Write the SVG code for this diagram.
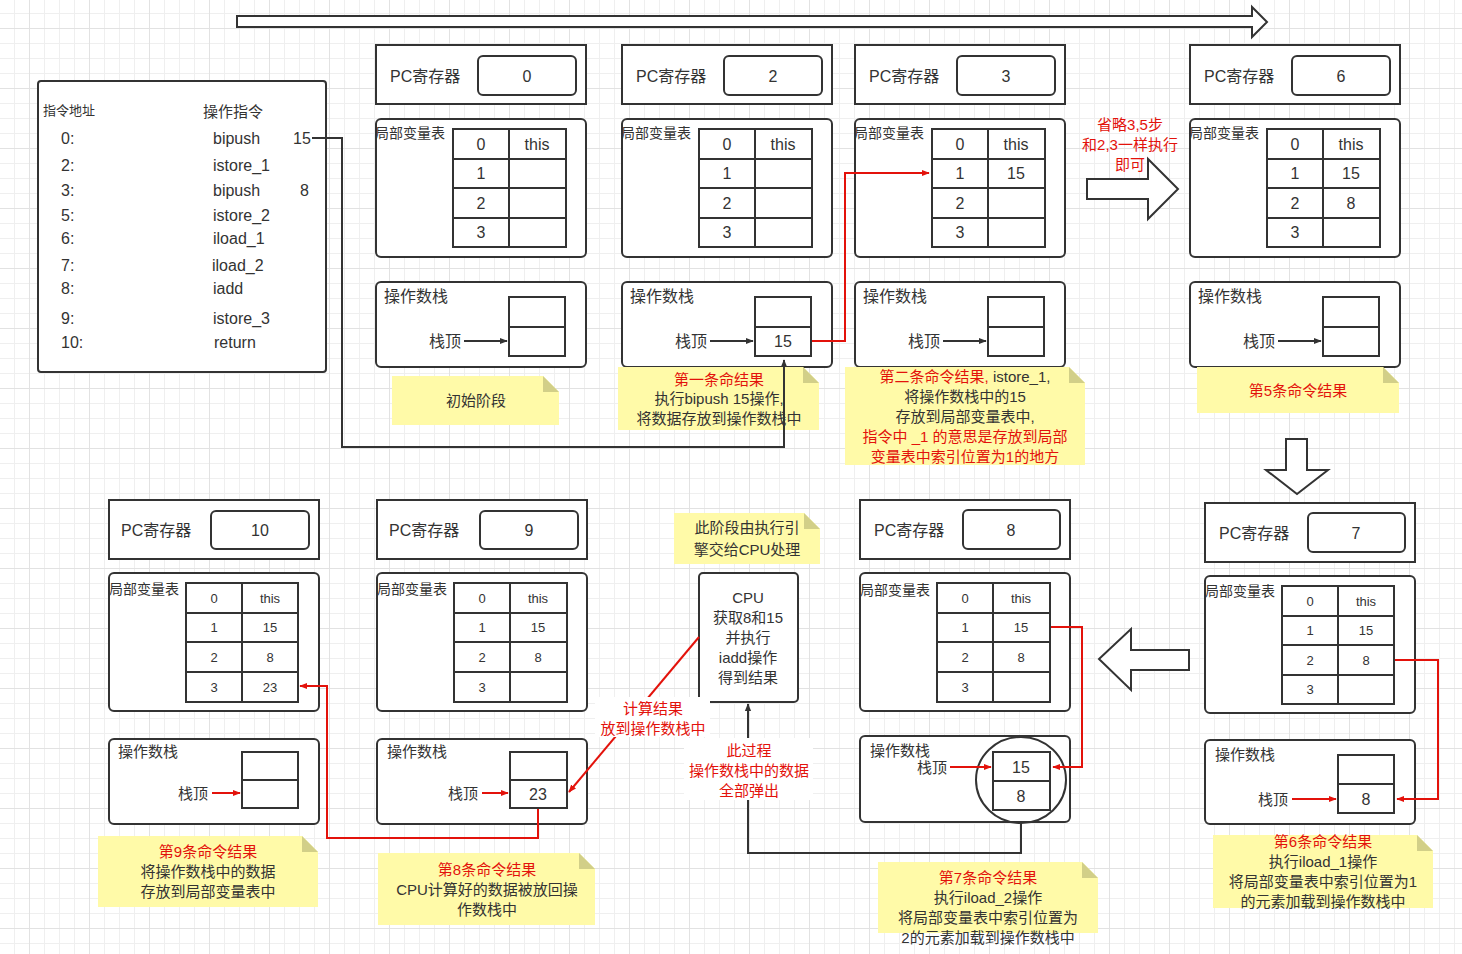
<svg xmlns="http://www.w3.org/2000/svg" width="1462" height="954" viewBox="0 0 1462 954">
<defs>
<pattern id="grid" x="29" y="28" width="60" height="60" patternUnits="userSpaceOnUse">
<path d="M15.5 0V60M30.5 0V60M45.5 0V60M0 15.5H60M0 30.5H60M0 45.5H60" stroke="#efefef" stroke-width="1" fill="none"/>
<path d="M0.5 0V60M0 0.5H60" stroke="#e2e2e2" stroke-width="1" fill="none"/>
</pattern>
<marker id="ab" viewBox="0 0 10 10" refX="9" refY="5" markerWidth="8" markerHeight="8" orient="auto" markerUnits="userSpaceOnUse"><path d="M0 1L10 5L0 9z" fill="#333"/></marker>
<marker id="ar" viewBox="0 0 10 10" refX="9" refY="5" markerWidth="8" markerHeight="8" orient="auto" markerUnits="userSpaceOnUse"><path d="M0 1L10 5L0 9z" fill="#e3120b"/></marker>
<style>
text{font-family:"Liberation Sans","Noto Sans CJK SC",sans-serif;fill:#333;dominant-baseline:central}
.f{fill:#fff;stroke:#333;stroke-width:2}
.n{fill:none;stroke:#333;stroke-width:2}
.c{text-anchor:middle}
.s16{font-size:16px}
.s15{font-size:15px}
.s14{font-size:14px}
.s13{font-size:13px}
.red{fill:#e3120b}
.note{fill:#fffaa8}
.fold{fill:#d2cf88}
.lb{stroke:#333;stroke-width:2;fill:none}
.lr{stroke:#e3120b;stroke-width:2;fill:none}
</style>
</defs>
<rect width="1462" height="954" fill="#fff"/>
<rect width="1462" height="954" fill="url(#grid)"/>

<g id="top-arrow"><polygon class="f" points="237,16 1252,16 1252,7 1267,22 1252,37 1252,27 237,27"/></g>

<g id="instructions">
<rect class="f" x="38" y="81" width="288" height="291" rx="3"/>
<text class="s13" x="43" y="110">指令地址</text>
<text class="s15" x="203" y="111">操作指令</text>
<g class="s16">
<text x="61" y="138">0:</text><text x="213" y="138">bipush</text><text x="293" y="138">15</text>
<text x="61" y="165">2:</text><text x="213" y="165">istore_1</text>
<text x="61" y="190">3:</text><text x="213" y="190">bipush</text><text x="300" y="190">8</text>
<text x="61" y="215">5:</text><text x="213" y="215">istore_2</text>
<text x="61" y="238">6:</text><text x="213" y="238">iload_1</text>
<text x="61" y="265">7:</text><text x="212" y="265">iload_2</text>
<text x="61" y="288">8:</text><text x="213" y="288">iadd</text>
<text x="61" y="318">9:</text><text x="213" y="318">istore_3</text>
<text x="61" y="342">10:</text><text x="214" y="342">return</text>
</g>
</g>

<!-- top frame 1 -->
<g id="frame0">
<rect class="f" x="376" y="45" width="210" height="59"/>
<rect class="f" x="478" y="56" width="98" height="39" rx="5"/>
<text class="s16" x="390" y="76">PC寄存器</text><text class="s16 c" x="527" y="76">0</text>
<rect class="f" x="376" y="119" width="210" height="138" rx="5"/>
<text class="s14" x="375" y="133">局部变量表</text>
<path class="n" d="M453 129H566V247H453ZM509 129V247M453 159H566M453 188H566M453 218H566"/>
<g class="s16 c"><text x="481" y="144">0</text><text x="537" y="144">this</text><text x="481" y="173">1</text><text x="481" y="203">2</text><text x="481" y="232">3</text></g>
<rect class="f" x="376" y="282" width="210" height="85" rx="5"/>
<text class="s16" x="384" y="296">操作数栈</text>
<path class="n" d="M509 297H565V356H509ZM509 327H565"/>
<text class="s16" x="429" y="341">栈顶</text>
</g>
<g id="note0"><polygon class="note" points="392,376 543,376 559,392 559,425 392,425"/><polygon class="fold" points="543,376 559,392 543,392"/><text class="s15 c" x="476" y="400">初始阶段</text></g>

<!-- top frame 2 -->
<g id="frame2">
<rect class="f" x="622" y="45" width="210" height="59"/>
<rect class="f" x="724" y="56" width="98" height="39" rx="5"/>
<text class="s16" x="636" y="76">PC寄存器</text><text class="s16 c" x="773" y="76">2</text>
<rect class="f" x="622" y="119" width="210" height="138" rx="5"/>
<text class="s14" x="621" y="133">局部变量表</text>
<path class="n" d="M699 129H812V247H699ZM755 129V247M699 159H812M699 188H812M699 218H812"/>
<g class="s16 c"><text x="727" y="144">0</text><text x="783" y="144">this</text><text x="727" y="173">1</text><text x="727" y="203">2</text><text x="727" y="232">3</text></g>
<rect class="f" x="622" y="282" width="210" height="85" rx="5"/>
<text class="s16" x="630" y="296">操作数栈</text>
<path class="n" d="M755 297H811V356H755ZM755 327H811"/>
<text class="s16 c" x="783" y="341">15</text>
<text class="s16" x="675" y="341">栈顶</text>
</g>
<g id="note2"><polygon class="note" points="618,367 803,367 819,383 819,430 618,430"/><polygon class="fold" points="803,367 819,383 803,383"/>
<text class="s15 c red" x="719" y="379">第一条命结果</text><text class="s15 c" x="719" y="398">执行bipush 15操作,</text><text class="s15 c" x="719" y="418">将数据存放到操作数栈中</text></g>

<!-- top frame 3 -->
<g id="frame3">
<rect class="f" x="855" y="45" width="210" height="59"/>
<rect class="f" x="957" y="56" width="98" height="39" rx="5"/>
<text class="s16" x="869" y="76">PC寄存器</text><text class="s16 c" x="1006" y="76">3</text>
<rect class="f" x="855" y="119" width="210" height="138" rx="5"/>
<text class="s14" x="854" y="133">局部变量表</text>
<path class="n" d="M932 129H1045V247H932ZM988 129V247M932 159H1045M932 188H1045M932 218H1045"/>
<g class="s16 c"><text x="960" y="144">0</text><text x="1016" y="144">this</text><text x="960" y="173">1</text><text x="1016" y="173">15</text><text x="960" y="203">2</text><text x="960" y="232">3</text></g>
<rect class="f" x="855" y="282" width="210" height="85" rx="5"/>
<text class="s16" x="863" y="296">操作数栈</text>
<path class="n" d="M988 297H1044V356H988ZM988 327H1044"/>
<text class="s16" x="908" y="341">栈顶</text>
</g>
<g id="note3"><polygon class="note" points="845,367 1069,367 1085,383 1085,465 845,465"/><polygon class="fold" points="1069,367 1085,383 1069,383"/>
<text class="s15 c" x="965" y="376"><tspan class="red">第二条命令结果,</tspan> istore_1,</text>
<text class="s15 c" x="965" y="396">将操作数栈中的15</text>
<text class="s15 c" x="965" y="416">存放到局部变量表中,</text>
<text class="s15 c red" x="965" y="436">指令中 _1 的意思是存放到局部</text>
<text class="s15 c red" x="965" y="456">变量表中索引位置为1的地方</text></g>

<g id="skip-arrow"><polygon class="f" points="1087,179 1148,179 1148,159 1178,189 1148,219 1148,199 1087,199"/>
<text class="s15 c red" x="1130" y="124">省略3,5步</text><text class="s15 c red" x="1130" y="144">和2,3一样执行</text><text class="s15 c red" x="1130" y="164">即可</text></g>

<!-- top frame 4 -->
<g id="frame5">
<rect class="f" x="1190" y="45" width="210" height="59"/>
<rect class="f" x="1292" y="56" width="98" height="39" rx="5"/>
<text class="s16" x="1204" y="76">PC寄存器</text><text class="s16 c" x="1341" y="76">6</text>
<rect class="f" x="1190" y="119" width="210" height="138" rx="5"/>
<text class="s14" x="1189" y="133">局部变量表</text>
<path class="n" d="M1267 129H1380V247H1267ZM1323 129V247M1267 159H1380M1267 188H1380M1267 218H1380"/>
<g class="s16 c"><text x="1295" y="144">0</text><text x="1351" y="144">this</text><text x="1295" y="173">1</text><text x="1351" y="173">15</text><text x="1295" y="203">2</text><text x="1351" y="203">8</text><text x="1295" y="232">3</text></g>
<rect class="f" x="1190" y="282" width="210" height="85" rx="5"/>
<text class="s16" x="1198" y="296">操作数栈</text>
<path class="n" d="M1323 297H1379V356H1323ZM1323 327H1379"/>
<text class="s16" x="1243" y="341">栈顶</text>
</g>
<g id="note5"><polygon class="note" points="1197,367 1383,367 1399,383 1399,413 1197,413"/><polygon class="fold" points="1383,367 1399,383 1383,383"/><text class="s15 c red" x="1298" y="390">第5条命令结果</text></g>

<g id="down-arrow"><polygon class="f" points="1286,439 1307,439 1307,470 1328,470 1297,494 1266,470 1286,470"/></g>

<!-- bottom frame: PC 7 -->
<g id="frame6">
<rect class="f" x="1205" y="503" width="210" height="59"/>
<rect class="f" x="1308" y="513" width="97" height="39" rx="5"/>
<text class="s16" x="1219" y="533">PC寄存器</text><text class="s16 c" x="1356" y="533">7</text>
<rect class="f" x="1205" y="576" width="210" height="137" rx="5"/>
<text class="s14" x="1205" y="591">局部变量表</text>
<path class="n" d="M1282 586H1394V704H1282ZM1338 586V704M1282 616H1394M1282 645H1394M1282 675H1394"/>
<g class="s13 c"><text x="1310" y="601">0</text><text x="1366" y="601">this</text><text x="1310" y="630">1</text><text x="1366" y="630">15</text><text x="1310" y="660">2</text><text x="1366" y="660">8</text><text x="1310" y="689">3</text></g>
<rect class="f" x="1205" y="740" width="210" height="84" rx="5"/>
<text class="s15" x="1215" y="754">操作数栈</text>
<path class="n" d="M1338 755H1394V813H1338ZM1338 784H1394"/>
<text class="s16 c" x="1366" y="799">8</text>
<text class="s15" x="1258" y="799">栈顶</text>
</g>
<g id="note6"><polygon class="note" points="1213,835 1417,835 1433,851 1433,908 1213,908"/><polygon class="fold" points="1417,835 1433,851 1417,851"/>
<text class="s15 c red" x="1323" y="841">第6条命令结果</text><text class="s15 c" x="1323" y="861">执行iload_1操作</text><text class="s15 c" x="1323" y="881">将局部变量表中索引位置为1</text><text class="s15 c" x="1323" y="901">的元素加载到操作数栈中</text></g>

<g id="left-arrow"><polygon class="f" points="1189,650 1131,650 1131,629 1099,659 1131,690 1131,670 1189,670"/></g>

<!-- bottom frame: PC 8 -->
<g id="frame7">
<rect class="f" x="860" y="500" width="210" height="59"/>
<rect class="f" x="963" y="510" width="97" height="39" rx="5"/>
<text class="s16" x="874" y="530">PC寄存器</text><text class="s16 c" x="1011" y="530">8</text>
<rect class="f" x="860" y="573" width="210" height="138" rx="5"/>
<text class="s14" x="860" y="590">局部变量表</text>
<path class="n" d="M937 583H1050V702H937ZM993 583V702M937 613H1050M937 642H1050M937 672H1050"/>
<g class="s13 c"><text x="965" y="598">0</text><text x="1021" y="598">this</text><text x="965" y="627">1</text><text x="1021" y="627">15</text><text x="965" y="657">2</text><text x="1021" y="657">8</text><text x="965" y="687">3</text></g>
<rect class="f" x="860" y="736" width="210" height="86" rx="5"/>
<text class="s15" x="870" y="750">操作数栈</text>
<path class="n" d="M993 752H1050V810H993ZM993 781H1050"/>
<text class="s16 c" x="1021" y="767">15</text><text class="s16 c" x="1021" y="796">8</text>
<text class="s15" x="917" y="767">栈顶</text>
<ellipse class="n" cx="1021" cy="780" rx="45" ry="43"/>
</g>
<g id="note7"><polygon class="note" points="878,862 1082,862 1098,878 1098,933 878,933"/><polygon class="fold" points="1082,862 1098,878 1082,878"/>
<text class="s15 c red" x="988" y="877">第7条命令结果</text><text class="s15 c" x="988" y="897">执行iload_2操作</text><text class="s15 c" x="988" y="917">将局部变量表中索引位置为</text><text class="s15 c" x="988" y="937">2的元素加载到操作数栈中</text></g>

<!-- CPU -->
<g id="cpu-note"><polygon class="note" points="674,513 804,513 820,529 820,564 674,564"/><polygon class="fold" points="804,513 820,529 804,529"/>
<text class="s15 c" x="747" y="527">此阶段由执行引</text><text class="s15 c" x="747" y="549">擎交给CPU处理</text></g>
<g id="cpu">
<rect class="f" x="699" y="573" width="99" height="129" rx="4"/>
<text class="s15 c" x="748" y="597">CPU</text><text class="s15 c" x="748" y="617">获取8和15</text><text class="s15 c" x="748" y="637">并执行</text><text class="s15 c" x="748" y="657">iadd操作</text><text class="s15 c" x="748" y="677">得到结果</text>
</g>

<!-- bottom frame: PC 9 -->
<g id="frame8">
<rect class="f" x="377" y="500" width="210" height="59"/>
<rect class="f" x="480" y="511" width="98" height="38" rx="5"/>
<text class="s16" x="389" y="530">PC寄存器</text><text class="s16 c" x="529" y="530">9</text>
<rect class="f" x="377" y="573" width="210" height="138" rx="5"/>
<text class="s14" x="377" y="589">局部变量表</text>
<path class="n" d="M454 583H567V702H454ZM510 583V702M454 613H567M454 642H567M454 672H567"/>
<g class="s13 c"><text x="482" y="598">0</text><text x="538" y="598">this</text><text x="482" y="627">1</text><text x="538" y="627">15</text><text x="482" y="657">2</text><text x="538" y="657">8</text><text x="482" y="687">3</text></g>
<rect class="f" x="377" y="739" width="210" height="85" rx="5"/>
<text class="s15" x="387" y="751">操作数栈</text>
<path class="n" d="M510 752H567V808H510ZM510 780H567"/>
<text class="s16 c" x="538" y="794">23</text>
<text class="s15" x="448" y="793">栈顶</text>
</g>
<g id="note8"><polygon class="note" points="378,853 579,853 595,869 595,925 378,925"/><polygon class="fold" points="579,853 595,869 579,869"/>
<text class="s15 c red" x="487" y="869">第8条命令结果</text><text class="s15 c" x="487" y="889">CPU计算好的数据被放回操</text><text class="s15 c" x="487" y="909">作数栈中</text></g>

<!-- bottom frame: PC 10 -->
<g id="frame9">
<rect class="f" x="109" y="500" width="210" height="59"/>
<rect class="f" x="211" y="511" width="98" height="38" rx="5"/>
<text class="s16" x="121" y="530">PC寄存器</text><text class="s16 c" x="260" y="530">10</text>
<rect class="f" x="109" y="573" width="210" height="138" rx="5"/>
<text class="s14" x="109" y="589">局部变量表</text>
<path class="n" d="M186 583H298V702H186ZM242 583V702M186 613H298M186 642H298M186 672H298"/>
<g class="s13 c"><text x="214" y="598">0</text><text x="270" y="598">this</text><text x="214" y="627">1</text><text x="270" y="627">15</text><text x="214" y="657">2</text><text x="270" y="657">8</text><text x="214" y="687">3</text><text x="270" y="687">23</text></g>
<rect class="f" x="109" y="739" width="210" height="85" rx="5"/>
<text class="s15" x="118" y="751">操作数栈</text>
<path class="n" d="M242 752H298V808H242ZM242 780H298"/>
<text class="s15" x="178" y="793">栈顶</text>
</g>
<g id="note9"><polygon class="note" points="98,836 302,836 318,852 318,907 98,907"/><polygon class="fold" points="302,836 318,852 302,852"/>
<text class="s15 c red" x="208" y="851">第9条命令结果</text><text class="s15 c" x="208" y="871">将操作数栈中的数据</text><text class="s15 c" x="208" y="891">存放到局部变量表中</text></g>

<g id="connectors">
<path class="lb" d="M312 138H342V447H784V360" marker-end="url(#ab)"/>
<path class="lb" d="M464 341H507" marker-end="url(#ab)"/>
<path class="lb" d="M710 341H753" marker-end="url(#ab)"/>
<path class="lb" d="M943 341H986" marker-end="url(#ab)"/>
<path class="lb" d="M1278 341H1321" marker-end="url(#ab)"/>
<path class="lr" d="M812 341H845V173H929" marker-end="url(#ar)"/>
<path class="lr" d="M1395 660H1438V799H1397" marker-end="url(#ar)"/>
<path class="lr" d="M1292 799H1336" marker-end="url(#ar)"/>
<path class="lr" d="M1051 627H1082V767H1053" marker-end="url(#ar)"/>
<path class="lr" d="M950 767H991" marker-end="url(#ar)"/>
<path class="lb" d="M1021 823V853H748V704" marker-end="url(#ab)"/>
<path class="lr" d="M699 637L569 792" marker-end="url(#ar)"/>
<path class="lr" d="M482 793H508" marker-end="url(#ar)"/>
<path class="lr" d="M538 809V838H327V686H300" marker-end="url(#ar)"/>
<path class="lr" d="M212 793H240" marker-end="url(#ar)"/>
<rect x="595" y="697" width="115" height="40" fill="#fff"/>
<text class="s15 c red" x="653" y="708">计算结果</text><text class="s15 c red" x="653" y="728">放到操作数栈中</text>
<rect x="684" y="738" width="129" height="62" fill="#fff"/>
<text class="s15 c red" x="749" y="750">此过程</text><text class="s15 c red" x="749" y="770">操作数栈中的数据</text><text class="s15 c red" x="749" y="790">全部弹出</text>
</g>
</svg>
